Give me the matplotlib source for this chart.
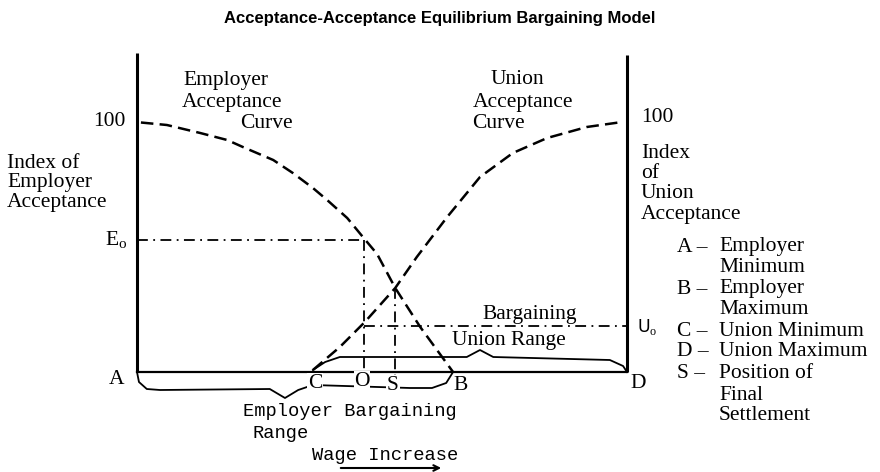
import matplotlib.pyplot as plt
import numpy as np

plt.rcParams['mathtext.fontset'] = 'custom'
plt.rcParams['mathtext.rm'] = 'Liberation Serif'

# curves: wage increase (A=0 .. D=100), acceptance index (0..100)
emp_x = [0.8, 6.1, 12.9, 18.4, 21.6, 27.8, 31.8, 35.9, 38.8, 42.9, 46.1, 49.0, 52.7, 57.8, 64.5]
emp_y = [99.8, 98.8, 95.6, 92.8, 90.0, 84.8, 79.6, 73.6, 68.8, 61.6, 54.0, 47.2, 33.6, 18.0, 0.0]
uni_x = [35.9, 41.4, 46.5, 52.7, 57.1, 63.3, 70.0, 76.7, 83.7, 91.8, 99.0]
uni_y = [0.8, 10.0, 20.0, 33.6, 46.0, 62.0, 78.0, 87.6, 93.6, 98.0, 100.0]

# key positions
O_x, E0 = 46.3, 53.0
S_x, S_y = 52.7, 33.6
U0 = 18.4

# braces
emp_range_x = [0, 0.4, 2.0, 4.7, 27.1, 30.2, 32.9, 35.9, 55.7, 60.2, 63.1, 64.5]
emp_range_y = [0, -4.0, -6.8, -7.2, -6.8, -10.4, -7.2, -5.2, -6.4, -6.4, -4.4, 0]
uni_range_x = [35.9, 38.4, 41.4, 67.3, 70.0, 72.7, 96.5, 99.2, 100]
uni_range_y = [0.8, 4.0, 6.0, 6.0, 8.8, 6.0, 4.8, 2.4, 0]

legend_lines = [("A \u2013", "Employer"), ("", "Minimum"), ("B \u2013", "Employer"),
                ("", "Maximum"), ("C \u2013", "Union Minimum"), ("D \u2013", "Union Maximum"),
                ("S \u2013", "Position of"), ("", "Final"), ("", "Settlement")]
legend_y = [50.0, 42.0, 33.2, 24.8, 16.4, 8.4, -0.8, -9.2, -17.6]

serif = 'Liberation Serif'
mono = 'Liberation Mono'
fs = 15.5

fig = plt.figure(figsize=(8.8, 4.72), dpi=100)
ax = fig.add_axes([0, 0, 1, 1])
# 4.9 px per x unit, 2.5 px per y unit; A sits at pixel (137, 372)
ax.set_xlim(-137 / 4.9, (880 - 137) / 4.9)
ax.set_ylim((372 - 472) / 2.5, 372 / 2.5)
ax.axis('off')

# axes of the diagram
ax.plot([0, 0], [0, 127.6], color='black', lw=2.2, solid_capstyle='butt')
ax.plot([100, 100], [0, 126.8], color='black', lw=2.2, solid_capstyle='butt')
ax.plot([0, 100], [0, 0], color='black', lw=1.6)

# acceptance curves
ax.plot(emp_x, emp_y, color='black', lw=1.8, linestyle=(0, (5, 2.5)))
ax.plot(uni_x, uni_y, color='black', lw=1.8, linestyle=(0, (5, 2.5)))

# guide lines
dd = (0, (6, 3, 1, 3))
ax.plot([0, O_x], [E0, E0], color='black', lw=1.3, linestyle=dd)
ax.plot([O_x, O_x], [E0, 0], color='black', lw=1.3, linestyle=dd)
ax.plot([S_x, S_x], [S_y, -2], color='black', lw=1.3, linestyle=dd)
ax.plot([O_x, 100], [U0, U0], color='black', lw=1.3, linestyle=dd)

# braces
ax.plot(emp_range_x, emp_range_y, color='black', lw=1.3)
ax.plot(uni_range_x, uni_range_y, color='black', lw=1.3)

fig.text(0.5, 1 - 18 / 472, 'Acceptance-Acceptance Equilibrium Bargaining Model',
         ha='center', va='center', fontsize=12, fontweight='bold', family='Liberation Sans')

def px(x, y):
    return (x - 137) / 4.9, (372 - y) / 2.5

def t(x, y, s, ha='left', va='center', font=serif, size=fs, **kw):
    ax.text(*px(x, y), s, ha=ha, va=va, family=font, fontsize=size, **kw)

# curve labels
t(183, 80, 'Employer')
t(182, 102, 'Acceptance')
t(293, 124, 'Curve', ha='right')
t(491, 80, 'Union')
t(473, 102, 'Acceptance')
t(472, 124, 'Curve')

# left axis labels
t(126, 122, '100', ha='right')
t(7, 163, 'Index of')
t(7, 183, 'Employer')
t(7, 203, 'Acceptance')
t(127, 240, r'E$_\mathrm{o}$', ha='right')

# right axis labels
t(641, 117, '100')
t(641, 153, 'Index')
t(641, 173, 'of')
t(641, 194, 'Union')
t(641, 214, 'Acceptance')
t(637, 327, r'U$_\mathrm{o}$', font='DejaVu Sans', size=12.5)

# legend
for (lead, rest), ly in zip(legend_lines, legend_y):
    yy = 372 - ly * 2.5
    if lead:
        t(677, yy, lead)
    t(719, yy, rest)

# point letters
bbox = dict(facecolor='white', edgecolor='none', pad=0.5)
t(117, 380, 'A', ha='center')
t(315, 383, 'C', ha='center', bbox=bbox)
t(362, 381, 'O', ha='center', bbox=bbox)
t(393, 385, 'S', ha='center', bbox=bbox)
t(461, 385, 'B', ha='center')
t(638, 383, 'D', ha='center')

t(482, 315, 'Bargaining')
t(452, 340, 'Union Range')

t(243, 412, 'Employer Bargaining', font=mono, size=13.5)
t(253, 434, 'Range', font=mono, size=13.5)
t(312, 455, 'Wage Increase', font=mono, size=13.5)
ax.annotate('', xy=px(444, 468), xytext=px(338, 468),
            arrowprops=dict(arrowstyle='->', color='black', lw=1.5))

plt.savefig('out.png', dpi=100)
